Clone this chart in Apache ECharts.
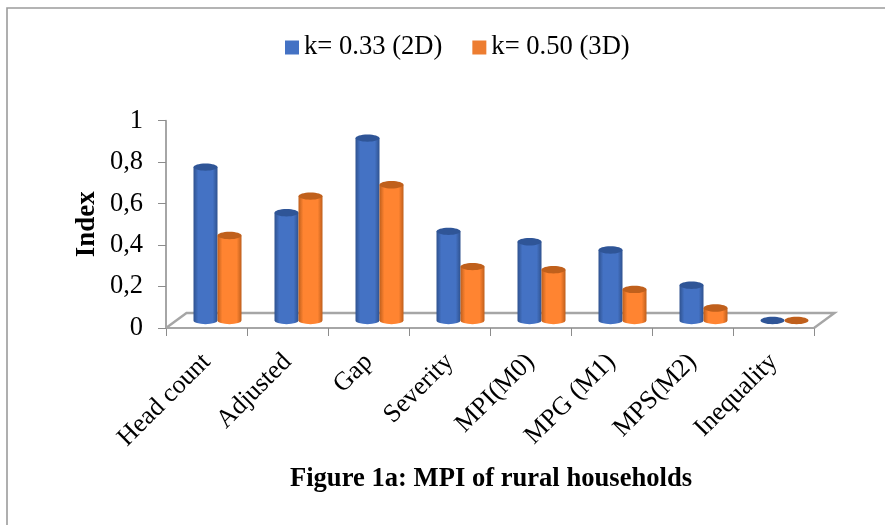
<!DOCTYPE html>
<html><head><meta charset="utf-8">
<style>html,body{margin:0;padding:0;background:#fff}#c{width:885px;height:525px}</style>
<script src="https://cdn.jsdelivr.net/npm/echarts@6/dist/echarts.min.js"></script>
</head><body><div id="c"></div>
<script>
const categories=['Head count','Adjusted','Gap','Severity','MPI(M0)','MPG (M1)','MPS(M2)','Inequality'];
const k033=[0.74,0.52,0.88,0.43,0.38,0.34,0.17,0];
const k050=[0.41,0.60,0.655,0.26,0.245,0.15,0.06,0];
const yTicks=[0,0.2,0.4,0.6,0.8,1];
const serif='"Liberation Serif","Times New Roman",serif';
const chart=echarts.init(document.getElementById('c'));
function cyl(side,body,edge,top){
  return function(params,api){
    const i=api.value(0),v=api.value(1);
    const p=api.coord([i,v]),b=api.coord([i,0]);
    const dx=11,dy=-7.5,rx=12,ry=3.7;
    const cx=p[0]+dx+side*rx,ty=p[1]+dy,by=b[1]+dy;
    const grad=new echarts.graphic.LinearGradient(0,0,1,0,[
      {offset:0,color:edge},{offset:0.2,color:body},{offset:0.8,color:body},{offset:1,color:edge}]);
    const children=[];
    if(by-ty>0.5){
      children.push({type:'path',shape:{
        pathData:`M${cx-rx} ${ty}L${cx-rx} ${by}A${rx} ${ry} 0 0 0 ${cx+rx} ${by}L${cx+rx} ${ty}Z`},
        style:{fill:grad}});
    }
    children.push({type:'ellipse',shape:{cx:cx,cy:ty,rx:rx,ry:ry},style:{fill:top}});
    return {type:'group',children};
  };
}
function floor(params,api){
  const c=params.coordSys,x0=c.x,x1=c.x+c.width,y=c.y+c.height,d=20.5,h=15;
  return {type:'polyline',shape:{points:[[x0,y],[x0+d,y-h],[x1+d,y-h],[x1,y]]},
    style:{fill:null,stroke:'#a6a6a6',lineWidth:2.4},z2:0};
}
chart.setOption({
  animation:false,
  backgroundColor:'#fff',
  graphic:[{type:'polyline',silent:true,shape:{points:[[7,525],[7,8],[885,8]]},style:{fill:null,stroke:'#9c9c9c',lineWidth:1.6}}],
  title:{text:'Figure 1a: MPI of rural households',left:486,top:461,textAlign:'center',
    textStyle:{fontFamily:serif,fontWeight:'bold',fontSize:26.6,color:'#000'}},
  legend:{left:280,top:29,icon:'rect',itemWidth:14,itemHeight:14,itemGap:30,
    data:['k= 0.33 (2D)','k= 0.50 (3D)'],
    textStyle:{fontFamily:serif,fontSize:26.6,color:'#000'}},
  grid:{left:166,right:71,top:120.7,bottom:197},
  xAxis:{type:'category',data:categories,
    axisLine:{lineStyle:{color:'#a6a6a6',width:2}},
    axisTick:{show:true,alignWithLabel:false,length:8,lineStyle:{color:'#8c8c8c',width:1}},
    axisLabel:{rotate:45,interval:0,fontFamily:serif,fontSize:26,color:'#000',margin:30}},
  yAxis:{type:'value',min:0,max:1,interval:0.2,
    name:'Index',nameLocation:'middle',nameGap:65,nameRotate:90,nameMoveOverlap:false,
    nameTextStyle:{fontFamily:serif,fontWeight:'bold',fontSize:27,color:'#000'},
    axisLine:{show:true,lineStyle:{color:'#a6a6a6',width:2}},
    axisTick:{show:true,length:8,lineStyle:{color:'#8c8c8c',width:1}},
    splitLine:{show:false},
    axisLabel:{fontFamily:serif,fontSize:26.5,color:'#000',margin:23,
      formatter:v=>String(yTicks.find(t=>Math.abs(t-v)<1e-9)).replace('.',',')}},
  series:[
    {type:'custom',name:'floor',silent:true,z:1,renderItem:floor,data:[[0,0]],encode:{x:0,y:1},legendHoverLink:false},
    {type:'custom',name:'k= 0.33 (2D)',z:3,renderItem:cyl(-1,'#4472c4','#2f528f','#2f5597'),itemStyle:{color:'#4472c4'},
      data:k033.map((v,i)=>[i,v]),encode:{x:0,y:1}},
    {type:'custom',name:'k= 0.50 (3D)',z:4,renderItem:cyl(1,'#ff8431','#bf5f1c','#c0601c'),itemStyle:{color:'#ed7d31'},
      data:k050.map((v,i)=>[i,v]),encode:{x:0,y:1}}
  ]
});
</script></body></html>
